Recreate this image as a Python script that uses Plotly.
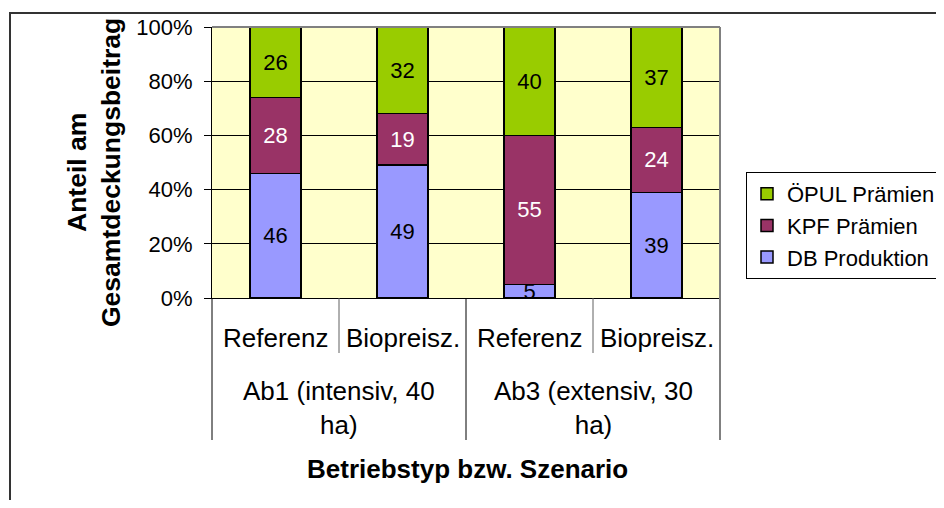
import plotly.graph_objects as go

scenarios = ["Referenz", "Biopreisz.", "Referenz", "Biopreisz."]
groups = ["Ab1 (intensiv, 40<br>ha)", "Ab3 (extensiv, 30<br>ha)"]
db_produktion = [46, 49, 5, 39]
kpf_praemien = [28, 19, 55, 24]
oepul_praemien = [26, 32, 40, 37]
x_pos = [0, 1, 2, 3]

FONT = "Liberation Sans, Arial, sans-serif"

fig = go.Figure()
series = [
    ("DB Produktion", db_produktion, "#9999FF", "black"),
    ("KPF Prämien", kpf_praemien, "#993366", "white"),
    ("ÖPUL Prämien", oepul_praemien, "#99CC00", "black"),
]
for name, vals, col, tcol in series:
    fig.add_trace(go.Bar(
        x=x_pos, y=vals, name=name, width=0.4,
        marker=dict(color=col, line=dict(color="black", width=1.5)),
        text=[str(v) for v in vals], textposition="inside", textangle=0,
        insidetextanchor="middle", constraintext="none",
        textfont=dict(size=22, color=tcol, family=FONT),
        hoverinfo="skip",
    ))

# page offset (body margin 8px); coordinates below are page pixels
OFF = 8
W, H = 944 - 2 * OFF, 508 - 2 * OFF
L, R, T, B = 212, 720, 27, 298
def px(x):
    return (x - L) / (R - L)
def py(y):
    return (B - y) / (B - T)

shapes = []
shapes.append(dict(type="line", xref="paper", yref="paper", x0=0, x1=1, y0=1, y1=1,
                   line=dict(color="#808080", width=2)))
shapes.append(dict(type="line", xref="paper", yref="paper", x0=1, x1=1, y0=1, y1=py(440),
                   line=dict(color="#808080", width=2)))
shapes.append(dict(type="line", xref="paper", yref="paper", x0=0, x1=0, y0=0, y1=py(440),
                   line=dict(color="black", width=1)))
shapes.append(dict(type="line", xref="paper", yref="paper", x0=0.5, x1=0.5, y0=0, y1=py(440),
                   line=dict(color="black", width=1)))
for xb in (0.25, 0.75):
    shapes.append(dict(type="line", xref="paper", yref="paper", x0=xb, x1=xb, y0=0, y1=py(353),
                       line=dict(color="#606060", width=1)))
# outer chart border (top & left)
shapes.append(dict(type="line", xref="paper", yref="paper", x0=px(9), x1=px(936), y0=py(13), y1=py(13),
                   line=dict(color="#333333", width=2)))
shapes.append(dict(type="line", xref="paper", yref="paper", x0=px(10), x1=px(10), y0=py(12), y1=py(500),
                   line=dict(color="#333333", width=2)))

annotations = []
for i, s in enumerate(scenarios):
    annotations.append(dict(x=x_pos[i], xref="x", y=py(338), yref="paper", text=s,
                            xanchor="center", yanchor="middle",
                            showarrow=False, font=dict(size=26, color="black", family=FONT)))
for j, g in enumerate(groups):
    annotations.append(dict(x=0.25 + 0.5 * j, xref="paper", y=py(408), yref="paper", text=g,
                            xanchor="center", yanchor="middle",
                            showarrow=False, font=dict(size=26, color="black", family=FONT)))
annotations.append(dict(x=px(467), xref="paper", y=py(469), yref="paper",
                        xanchor="center", yanchor="middle",
                        text="<b>Betriebstyp bzw. Szenario</b>", showarrow=False,
                        font=dict(size=26, color="black", family=FONT)))
annotations.append(dict(x=px(94), xref="paper", y=py(173), yref="paper",
                        xanchor="center", yanchor="middle",
                        text="<b>Anteil am<br>Gesamtdeckungsbeitrag</b>", textangle=-90,
                        showarrow=False, font=dict(size=26.5, color="black", family=FONT)))

fig.update_layout(
    width=W, height=H,
    margin=dict(l=L - OFF, r=W - (R - OFF), t=T - OFF, b=H - (B - OFF), autoexpand=False),
    paper_bgcolor="white", plot_bgcolor="#FFFFCC",
    barmode="stack",
    font=dict(family=FONT, color="black"),
    uniformtext=dict(minsize=22, mode="show"),
    showlegend=True,
    legend=dict(x=px(746), xanchor="left", y=py(172), yanchor="top",
                traceorder="reversed", bordercolor="black", borderwidth=1,
                bgcolor="white", font=dict(size=22, family=FONT, color="black"),
                itemwidth=30),
    xaxis=dict(range=[-0.5, 3.5], showticklabels=False, showgrid=False, zeroline=False,
               showline=True, linecolor="black", linewidth=1, ticks=""),
    yaxis=dict(range=[0, 100], dtick=20, ticksuffix="%", showgrid=True, gridcolor="black",
               gridwidth=1, zeroline=False, showline=True, linecolor="black", linewidth=1,
               ticks="outside", ticklen=7, tickcolor="black", ticklabelstandoff=7,
               tickfont=dict(size=22, family=FONT, color="black")),
    shapes=shapes,
    annotations=annotations,
)

fig.write_html("out.html")
